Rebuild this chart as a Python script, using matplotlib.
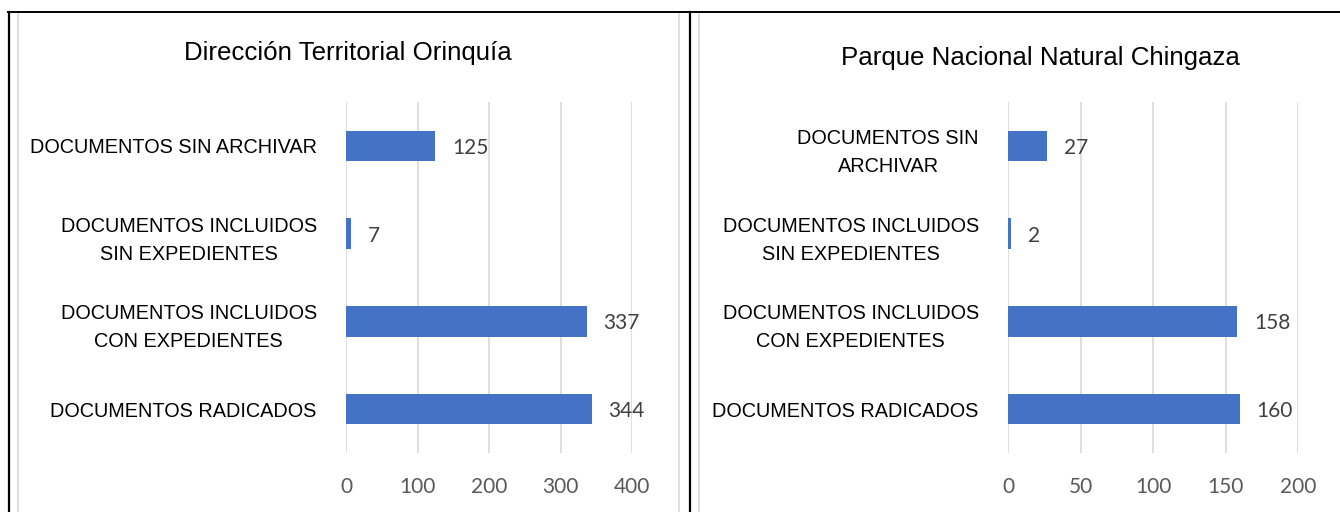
import matplotlib
matplotlib.use('Agg')
import matplotlib.pyplot as plt
from matplotlib.lines import Line2D

# Datos de los dos paneles (orden de arriba hacia abajo)
categorias_izq = ['DOCUMENTOS SIN ARCHIVAR',
                  'DOCUMENTOS INCLUIDOS\nSIN EXPEDIENTES',
                  'DOCUMENTOS INCLUIDOS\nCON EXPEDIENTES',
                  'DOCUMENTOS RADICADOS']
valores_izq = [125, 7, 337, 344]
ticks_izq = [0, 100, 200, 300, 400]
titulo_izq = 'Dirección Territorial Orinquía'

categorias_der = ['DOCUMENTOS SIN\nARCHIVAR',
                  'DOCUMENTOS INCLUIDOS\nSIN EXPEDIENTES',
                  'DOCUMENTOS INCLUIDOS\nCON EXPEDIENTES',
                  'DOCUMENTOS RADICADOS']
valores_der = [27, 2, 158, 160]
ticks_der = [0, 50, 100, 150, 200]
titulo_der = 'Parque Nacional Natural Chingaza'

FUENTE_TXT = ['Liberation Sans', 'DejaVu Sans']
FUENTE_NUM = ['Lato', 'DejaVu Sans']
AZUL = '#4472C4'
GRIS = '#d9d9d9'

W, H = 1340, 512
fig = plt.figure(figsize=(W / 100, H / 100), dpi=100)


def panel(rect, categorias, valores, ticks):
    ax = fig.add_axes(rect)
    pos = list(range(len(categorias)))
    ax.barh(pos, valores, height=0.35, color=AZUL, zorder=3)
    ax.set_xlim(ticks[0], ticks[-1])
    ax.set_ylim(len(categorias) - 0.5, -0.5)
    ax.set_xticks(ticks)
    ax.set_xticklabels([str(t) for t in ticks], family=FUENTE_NUM,
                       fontsize=15, color='#595959')
    ax.set_yticks(pos)
    ax.set_yticklabels(categorias, family=FUENTE_TXT, fontsize=14.3,
                       color='black', multialignment='center', linespacing=1.6)
    ax.tick_params(axis='x', length=0, pad=17)
    ax.tick_params(axis='y', length=0, pad=21)
    ax.grid(axis='x', color=GRIS, linewidth=1.2, zorder=0)
    for s in ax.spines.values():
        s.set_visible(False)
    for p, v in zip(pos, valores):
        ax.annotate(str(v), (v, p), xytext=(12, -1.5), textcoords='offset points',
                    va='center', ha='left', family=FUENTE_NUM, fontsize=15,
                    color='#404040')
    return ax


panel([346 / W, 1 - 453 / H, 286 / W, 351 / H], categorias_izq, valores_izq, ticks_izq)
panel([1008 / W, 1 - 453 / H, 290 / W, 351 / H], categorias_der, valores_der, ticks_der)

fig.text(348 / W, 1 - 53 / H, titulo_izq, ha='center', va='center',
         family=FUENTE_TXT, fontsize=18.6)
fig.text(1040 / W, 1 - 58 / H, titulo_der, ha='center', va='center',
         family=FUENTE_TXT, fontsize=18.6)

# marcos de los graficos y lineas de la tabla
for x in (18, 679, 699):
    fig.add_artist(Line2D([x / W, x / W], [0, 1 - 13 / H], color=GRIS, lw=1.2))
for x in (9, 689.5):
    fig.add_artist(Line2D([x / W, x / W], [0, 1 - 12 / H], color='black', lw=1.6))
fig.add_artist(Line2D([8 / W, 1], [1 - 12 / H, 1 - 12 / H], color='black', lw=1.4))

fig.savefig('out.png', dpi=100, facecolor='white')
